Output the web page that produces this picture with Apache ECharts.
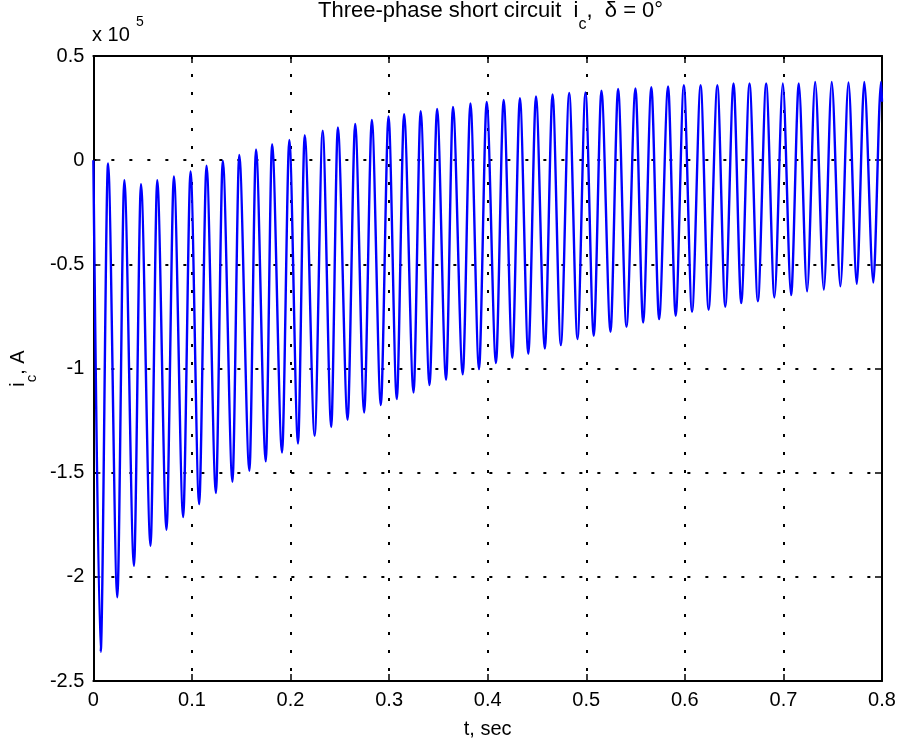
<!DOCTYPE html>
<html>
<head>
<meta charset="utf-8">
<title>Three-phase short circuit i_c</title>
<script src="https://cdn.jsdelivr.net/npm/echarts@6/dist/echarts.min.js"></script>
<style>
  html, body { margin: 0; padding: 0; background: #fff; }
  #chart { width: 900px; height: 748px; }
</style>
</head>
<body>
<div id="chart"></div>
<script>
// i_c: t in seconds, current in units of 10^5 A
const peakT = [0.0149, 0.0314, 0.0483, 0.0648, 0.0817, 0.0986, 0.1148, 0.1313, 0.1480, 0.1650, 0.1813, 0.1988,
               0.2144, 0.2326, 0.2480, 0.2656, 0.2825, 0.2994, 0.3152, 0.3320, 0.3487, 0.3648, 0.3825, 0.3990,
               0.4162, 0.4327, 0.4490, 0.4658, 0.4827, 0.4992, 0.5154, 0.5323, 0.5499, 0.5660, 0.5830, 0.5990,
               0.6160, 0.6330, 0.6494, 0.6656, 0.6825, 0.6994, 0.7156, 0.7322, 0.7490, 0.7660, 0.7820, 0.7990];
const peakI = [-0.016, -0.096, -0.115, -0.096, -0.078, -0.054, -0.027, -0.002, 0.025, 0.051, 0.077, 0.097,
               0.120, 0.141, 0.157, 0.174, 0.193, 0.210, 0.221, 0.235, 0.246, 0.256, 0.272, 0.280,
               0.289, 0.297, 0.306, 0.315, 0.323, 0.325, 0.333, 0.342, 0.344, 0.350, 0.354, 0.360,
               0.360, 0.360, 0.368, 0.368, 0.368, 0.368, 0.368, 0.376, 0.376, 0.373, 0.376, 0.376];
const troughT = [0.0074, 0.0243, 0.0412, 0.0580, 0.0742, 0.0911, 0.1073, 0.1243, 0.1411, 0.1583, 0.1749, 0.1914,
                 0.2076, 0.2245, 0.2413, 0.2579, 0.2747, 0.2916, 0.3078, 0.3248, 0.3410, 0.3578, 0.3747, 0.3912,
                 0.4084, 0.4250, 0.4412, 0.4580, 0.4742, 0.4911, 0.5076, 0.5246, 0.5408, 0.5577, 0.5739, 0.5907,
                 0.6073, 0.6241, 0.6410, 0.6572, 0.6741, 0.6909, 0.7078, 0.7240, 0.7410, 0.7578, 0.7744, 0.7912];
const troughI = [-2.360, -2.098, -1.947, -1.851, -1.774, -1.713, -1.651, -1.598, -1.544, -1.491, -1.446, -1.403,
                 -1.360, -1.323, -1.281, -1.246, -1.211, -1.176, -1.147, -1.115, -1.080, -1.054, -1.028, -1.003,
                 -0.974, -0.949, -0.929, -0.904, -0.888, -0.859, -0.843, -0.824, -0.800, -0.779, -0.763, -0.747,
                 -0.728, -0.718, -0.704, -0.686, -0.678, -0.659, -0.648, -0.630, -0.622, -0.606, -0.594, -0.587];
const firstPoint = [0, 0];
const lastPoint = [0.8, 0.28];

const xRange = [0, 0.8, 0.1];
const yRange = [-2.5, 0.5, 0.5];

const font = "'Liberation Sans', Arial, Helvetica, sans-serif";

// walk the curve: start, then trough / peak for every cycle, then the end
const points = [firstPoint];
for (let k = 0; k < peakT.length; k++) {
    points.push([troughT[k], troughI[k]]);
    points.push([peakT[k], peakI[k]]);
}
points.push(lastPoint);

const dotted = { color: '#000', width: 2, type: [3, 15] };

function boxAxis(range, position, withLabels) {
    return {
        type: 'value',
        position: position,
        min: range[0],
        max: range[1],
        interval: range[2],
        axisLine: { show: true, onZero: false, lineStyle: { color: '#000', width: 2 } },
        axisTick: { show: true, inside: true, length: 7, lineStyle: { color: '#000', width: 1.5 } },
        axisLabel: { show: withLabels, color: '#000', fontSize: 20, fontFamily: font },
        splitLine: { show: withLabels, lineStyle: dotted }
    };
}

const xBottom = boxAxis(xRange, 'bottom', true);
xBottom.axisLabel.margin = 9;
xBottom.name = 't, sec';
xBottom.nameLocation = 'middle';
xBottom.nameGap = 38;
xBottom.nameTextStyle = { color: '#000', fontSize: 20, fontFamily: font };

const yLeft = boxAxis(yRange, 'left', true);
yLeft.axisLabel.margin = 9;
yLeft.name = '{m|i}{s|c}{m|, A}';
yLeft.nameLocation = 'middle';
yLeft.nameRotate = 90;
yLeft.nameGap = 52;
yLeft.nameTextStyle = {
    color: '#000', fontFamily: font,
    rich: {
        m: { fontSize: 20, fontFamily: font, color: '#000', lineHeight: 22, verticalAlign: 'top' },
        s: { fontSize: 15, fontFamily: font, color: '#000', lineHeight: 15, padding: [16, 0, 0, 0], verticalAlign: 'top' }
    }
};

const chart = echarts.init(document.getElementById('chart'), null, { renderer: 'canvas' });
chart.setOption({
    animation: false,
    backgroundColor: '#fff',
    title: {
        text: '{m|Three-phase short circuit  i}{s|c}{m|,  δ = 0°}',
        left: 318,
        top: 0,
        padding: 0,
        textStyle: {
            fontWeight: 'normal',
            rich: {
                m: { fontSize: 22, fontWeight: 'normal', fontFamily: font, color: '#000', lineHeight: 22, verticalAlign: 'top' },
                s: { fontSize: 16, fontWeight: 'normal', fontFamily: font, color: '#000', lineHeight: 16, padding: [17, 0, 0, 0], verticalAlign: 'top' }
            }
        }
    },
    grid: { left: 92, right: 18, top: 56, bottom: 67, containLabel: false },
    xAxis: [xBottom, boxAxis(xRange, 'top', false)],
    yAxis: [yLeft, boxAxis(yRange, 'right', false)],
    graphic: [
        { type: 'text', left: 92, top: 25, style: { text: 'x 10', font: '20px ' + font, fill: '#000' } },
        { type: 'text', left: 136, top: 15, style: { text: '5', font: '14px ' + font, fill: '#000' } }
    ],
    series: [{
        type: 'line',
        data: points,
        showSymbol: false,
        symbol: 'none',
        smooth: 0.3,
        smoothMonotone: 'x',
        clip: true,
        lineStyle: { color: '#0000ff', width: 2.4 }
    }]
});
window.addEventListener('resize', chart.resize);
</script>
</body>
</html>
